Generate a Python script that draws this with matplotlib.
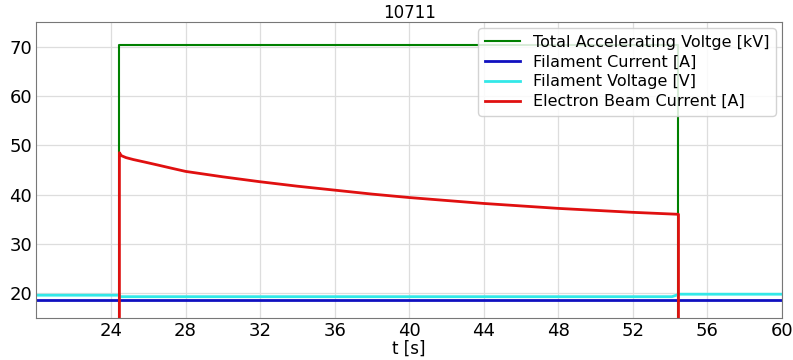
import matplotlib.pyplot as plt

# time axis [s] and signals
t_acc = [20, 24.45, 24.45, 54.45, 54.45, 60]
v_acc = [0, 0, 70.4, 70.4, 0, 0]

t_fil_i = [20, 60]
v_fil_i = [18.7, 18.7]

t_fil_v = [20, 24.45, 24.5, 54.1, 54.5, 60]
v_fil_v = [19.6, 19.6, 19.3, 19.3, 19.8, 19.8]

t_beam = [20, 24.45, 24.45, 24.55, 24.8, 25.2, 25.8, 26.5, 27.3, 28, 30, 32, 34, 36,
          38, 40, 42, 44, 46, 48, 50, 52, 54.45, 54.45, 60]
v_beam = [0, 0, 48.5, 47.9, 47.5, 47.1, 46.6, 46.0, 45.3, 44.7, 43.6, 42.6, 41.7, 40.9,
          40.1, 39.4, 38.8, 38.2, 37.7, 37.2, 36.8, 36.4, 36.0, 0, 0]

xticks = [24, 28, 32, 36, 40, 44, 48, 52, 56, 60]
yticks = [20, 30, 40, 50, 60, 70]

fig, ax = plt.subplots(figsize=(7.93, 3.6), dpi=100)
fig.subplots_adjust(left=0.046, right=0.986, top=0.939, bottom=0.117)

ax.plot(t_acc, v_acc, color='green', lw=1.5, label='Total Accelerating Voltge [kV]')
ax.plot(t_fil_i, v_fil_i, color='#1010c0', lw=2, label='Filament Current [A]')
ax.plot(t_fil_v, v_fil_v, color='#33e8e8', lw=2, label='Filament Voltage [V]')
ax.plot(t_beam, v_beam, color='#e01010', lw=2, label='Electron Beam Current [A]')

ax.set_xlim(20, 60)
ax.set_ylim(15, 75)
ax.set_xticks(xticks)
ax.set_yticks(yticks)
ax.tick_params(labelsize=13, length=0, pad=3)
ax.grid(True, color='#dddddd', lw=0.9)
for s in ax.spines.values():
    s.set_color('#777777')

ax.set_title('10711', fontsize=12, pad=3)
ax.set_xlabel('t [s]', fontsize=12, labelpad=0)
ax.legend(loc='upper right', fontsize=11.5, framealpha=0.85, borderaxespad=0.4,
          handlelength=2.2, labelspacing=0.3)

plt.savefig('out.png')
